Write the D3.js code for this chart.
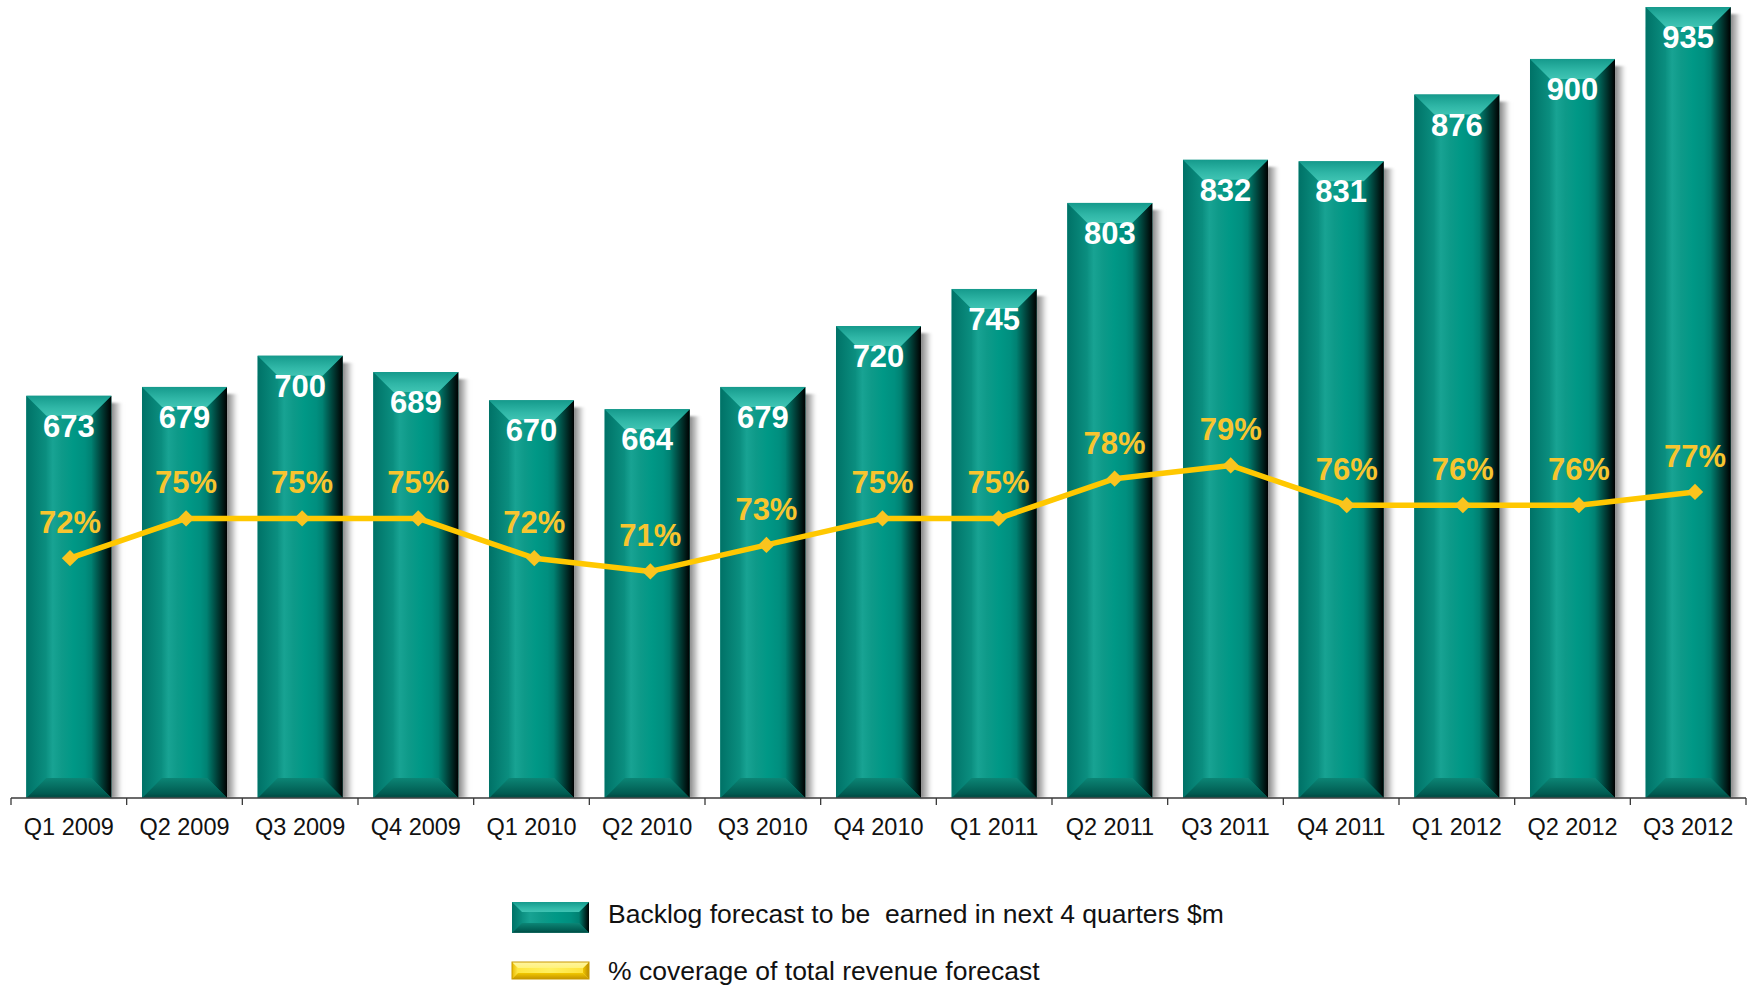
<!DOCTYPE html>
<html>
<head>
<meta charset="utf-8">
<script src="https://cdn.jsdelivr.net/npm/d3@7"></script>
<style>
  html, body { margin: 0; padding: 0; background: #ffffff; }
  svg { display: block; font-family: Arial, "Liberation Sans", sans-serif; }
</style>
</head>
<body>
<svg id="chart" width="1752" height="989"></svg>
<script>
// Quarterly backlog ($m) and coverage of total revenue forecast (%)
const categories = ["Q1 2009", "Q2 2009", "Q3 2009", "Q4 2009", "Q1 2010", "Q2 2010", "Q3 2010",
                    "Q4 2010", "Q1 2011", "Q2 2011", "Q3 2011", "Q4 2011", "Q1 2012", "Q2 2012", "Q3 2012"];
const backlog = [673, 679, 700, 689, 670, 664, 679, 720, 745, 803, 832, 831, 876, 900, 935];
const coverage = [72, 75, 75, 75, 72, 71, 73, 75, 75, 78, 79, 76, 76, 76, 77];
const legendLabels = ["Backlog forecast to be  earned in next 4 quarters $m",
                      "% coverage of total revenue forecast"];

const svg = d3.select("#chart");
const defs = svg.append("defs");

function linGrad(id, horizontal, stops) {
  const g = defs.append("linearGradient").attr("id", id)
    .attr("x1", 0).attr("y1", 0)
    .attr("x2", horizontal ? 1 : 0).attr("y2", horizontal ? 0 : 1);
  stops.forEach(([o, c, a]) => g.append("stop").attr("offset", o).attr("stop-color", c)
    .attr("stop-opacity", a === undefined ? 1 : a));
}

// teal bevel faces
linGrad("tFace", true, [[0, "#0b8f80"], [0.15, "#18a393"], [0.35, "#0e9a89"], [0.6, "#009886"], [0.85, "#008f7f"], [1, "#008071"]]);
linGrad("tLeft", true, [[0, "#007267"], [1, "#0b8f80"]]);
linGrad("tRight", true, [[0, "#008071"], [0.45, "#00463e"], [1, "#000000"]]);
linGrad("tTop", false, [[0, "#159a8c"], [0.6, "#30b7a7"], [1, "#40c4b3"]]);
linGrad("tBottom", false, [[0, "#0c8575"], [0.8, "#005a50"], [0.92, "#004a42"], [1, "#2b8f84"]]);
// yellow bevel faces
linGrad("yFace", true, [[0, "#ffe640"], [0.5, "#fff060"], [1, "#ffe23a"]]);
linGrad("yLeft", true, [[0, "#e8b800"], [1, "#ffe84a"]]);
linGrad("yRight", true, [[0, "#f0c400"], [1, "#b88a00"]]);
linGrad("yTop", false, [[0, "#fff4a0"], [1, "#fff27a"]]);
linGrad("yBottom", false, [[0, "#f2c800"], [1, "#c49400"]]);
// drop shadow
linGrad("shadow", true, [[0, "#6e6e6e", 0.95], [0.5, "#aaaaaa", 0.65], [1, "#ffffff", 0]]);
defs.append("filter").attr("id", "soft").attr("x", "-50%").attr("width", "200%")
  .append("feGaussianBlur").attr("stdDeviation", 1.2);

// bevelled box drawn as five facets over a base fill
function bevelBox(g, x0, y0, w, h, s, pal, baseFill) {
  const x1 = x0 + w, y1 = y0 + h;
  s = Math.min(s, h / 2, w / 2);
  const poly = pts => pts.map(p => p.join(",")).join(" ");
  g.append("rect").attr("x", x0).attr("y", y0).attr("width", w).attr("height", h).attr("fill", baseFill);
  g.append("rect").attr("x", x0 + s - 0.5).attr("y", y0 + s - 0.5).attr("width", w - 2 * s + 1).attr("height", h - 2 * s + 1)
    .attr("fill", `url(#${pal}Face)`);
  g.append("polygon").attr("points", poly([[x0, y0], [x0 + s, y0 + s], [x0 + s, y1 - s], [x0, y1]]))
    .attr("fill", `url(#${pal}Left)`);
  g.append("polygon").attr("points", poly([[x1, y0], [x1 - s, y0 + s], [x1 - s, y1 - s], [x1, y1]]))
    .attr("fill", `url(#${pal}Right)`);
  g.append("polygon").attr("points", poly([[x0, y0], [x1, y0], [x1 - s, y0 + s], [x0 + s, y0 + s]]))
    .attr("fill", `url(#${pal}Top)`);
  g.append("polygon").attr("points", poly([[x0, y1], [x1, y1], [x1 - s, y1 - s], [x0 + s, y1 - s]]))
    .attr("fill", `url(#${pal}Bottom)`);
}

// scales
const x = d3.scaleBand().domain(categories).range([11, 1746]).paddingInner(0.265).paddingOuter(0.1325);
const xLine = d3.scalePoint().domain(categories).range([70, 1695]);
const yBar = d3.scaleLinear().domain([402, 935]).range([798, 7]);
const yPct = d3.scaleLinear().domain([53.9, 113.6]).range([798, 7]);
const base = yBar.range()[0];

// bars
const bars = svg.append("g").attr("class", "bars");
categories.forEach((c, i) => {
  const g = bars.append("g");
  const bx = x(c), bw = x.bandwidth(), top = yBar(backlog[i]);
  g.append("rect").attr("x", bx + bw - 1).attr("y", top + 7).attr("width", 14).attr("height", base - top - 7)
    .attr("fill", "url(#shadow)").attr("filter", "url(#soft)");
  bevelBox(g, bx, top, bw, base - top, 20, "t", "#008a7b");
});

// bar value labels
svg.append("g").selectAll("text").data(backlog).join("text")
  .attr("x", (d, i) => x(categories[i]) + x.bandwidth() / 2)
  .attr("y", d => yBar(d) + 41)
  .attr("text-anchor", "middle")
  .attr("font-size", 31).attr("font-weight", "bold").attr("fill", "#ffffff")
  .text(d => d);

// x axis
const axisG = svg.append("g").attr("transform", `translate(0,${base})`);
axisG.append("line").attr("x1", x.range()[0]).attr("x2", x.range()[1]).attr("stroke", "#3a3a3a").attr("stroke-width", 1.3);
const bounds = categories.map(c => x(c) - x.step() * x.paddingOuter()).concat([x.range()[1]]);
axisG.selectAll("line.tick").data(bounds).join("line").attr("class", "tick")
  .attr("x1", d => d).attr("x2", d => d).attr("y1", 0).attr("y2", 7)
  .attr("stroke", "#3a3a3a").attr("stroke-width", 1.3);
const xAxis = d3.axisBottom(x).tickSize(0).tickSizeOuter(0);
axisG.append("g").call(xAxis).call(g => {
  g.select(".domain").remove();
  g.selectAll("text").attr("y", 37).attr("dy", 0).attr("font-size", 23.5)
    .attr("font-family", "Arial, 'Liberation Sans', sans-serif").attr("fill", "#111");
});

// coverage line
const line = d3.line().x((d, i) => xLine(categories[i])).y(d => yPct(d));
svg.append("path").datum(coverage).attr("d", line)
  .attr("fill", "none").attr("stroke", "#ffc800").attr("stroke-width", 5.5).attr("stroke-linejoin", "round");
svg.append("g").selectAll("path").data(coverage).join("path")
  .attr("d", d3.symbol(d3.symbolDiamond2, 170)())
  .attr("transform", (d, i) => `translate(${xLine(categories[i])},${yPct(d)})`)
  .attr("fill", "#fac41e");

// coverage labels
svg.append("g").selectAll("text").data(coverage).join("text")
  .attr("x", (d, i) => xLine(categories[i]))
  .attr("y", d => yPct(d) - 25)
  .attr("text-anchor", "middle")
  .attr("font-size", 31).attr("font-weight", "bold").attr("fill", "#f8c52f")
  .text(d => d + "%");

// legend
const legend = svg.append("g");
bevelBox(legend, 512, 902, 77, 31, 10, "t", "#008a7b");
bevelBox(legend, 512, 962, 77, 17, 6, "y", "#ffe640");
legend.append("rect").attr("x", 512).attr("y", 962).attr("width", 77).attr("height", 17)
  .attr("fill", "none").attr("stroke", "#c99a00").attr("stroke-width", 1);
legend.selectAll("text").data(legendLabels).join("text")
  .attr("x", 608).attr("y", (d, i) => i === 0 ? 923 : 980)
  .attr("font-size", 26.5).attr("fill", "#111").style("white-space", "pre")
  .text(d => d);
</script>
</body>
</html>
